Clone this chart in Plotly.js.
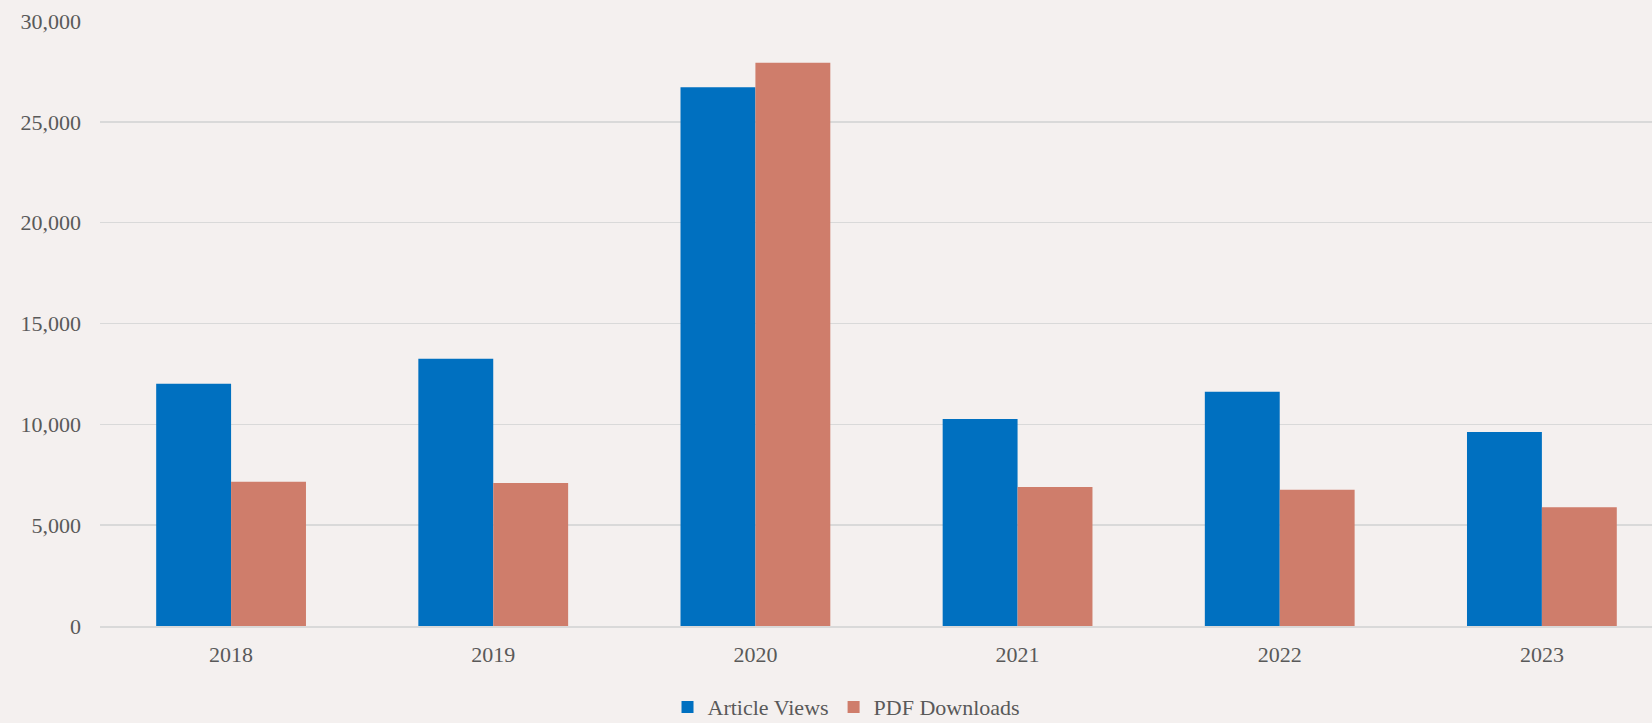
<!DOCTYPE html>
<html>
<head>
<meta charset="utf-8">
<script src="https://cdn.plot.ly/plotly-3.0.1.min.js"></script>
<style>html,body{margin:0;padding:0;background:#F4F0EF;}</style>
</head>
<body>
<div id="chart" style="width:1652px;height:723px;"></div>
<script>
const years = ["2018", "2019", "2020", "2021", "2022", "2023"];
const articleViews = [12015, 13254, 26711, 10264, 11620, 9625];
const pdfDownloads = [7157, 7091, 27933, 6892, 6760, 5884];
const yTicks = [0, 5000, 10000, 15000, 20000, 25000, 30000];

const fontFam = "Liberation Serif, DejaVu Serif, serif";
const textColor = "#595959";

const traces = [
  {type: "bar", name: "Article Views", x: years, y: articleViews,
   marker: {color: "#0070C0", line: {width: 0}}, hoverinfo: "x+y"},
  {type: "bar", name: "PDF Downloads", x: years, y: pdfDownloads,
   marker: {color: "#CF7D6B", line: {width: 0}}, hoverinfo: "x+y"}
];

const layout = {
  width: 1652, height: 723,
  paper_bgcolor: "#F4F0EF", plot_bgcolor: "#F4F0EF",
  margin: {l: 100, r: 0, t: 21, b: 97},
  barmode: "group", bargap: 0.4286, bargroupgap: 0,
  font: {family: fontFam, size: 22, color: textColor},
  xaxis: {
    type: "category", range: [-0.5, 5.42],
    showgrid: false, showline: true, linecolor: "#D9D9D9", linewidth: 1.5,
    ticks: "", ticklabelstandoff: 8,
    tickfont: {family: fontFam, size: 22, color: textColor}, fixedrange: true
  },
  yaxis: {
    range: [0, 30000], tickvals: yTicks, tickformat: ",.0f",
    showgrid: true, gridcolor: "#D9D9D9", gridwidth: 1.5,
    zeroline: false, showline: false, ticks: "", ticklabelstandoff: 18,
    tickfont: {family: fontFam, size: 22, color: textColor}, fixedrange: true
  },
  showlegend: true,
  legend: {
    orientation: "h", xref: "paper", yref: "container",
    x: 0.481, xanchor: "center", y: 0.022, yanchor: "middle",
    font: {family: fontFam, size: 22, color: textColor},
    itemwidth: 30, traceorder: "normal", bgcolor: "rgba(0,0,0,0)"
  }
};

Plotly.newPlot("chart", traces, layout, {displayModeBar: false, staticPlot: true});
</script>
</body>
</html>
